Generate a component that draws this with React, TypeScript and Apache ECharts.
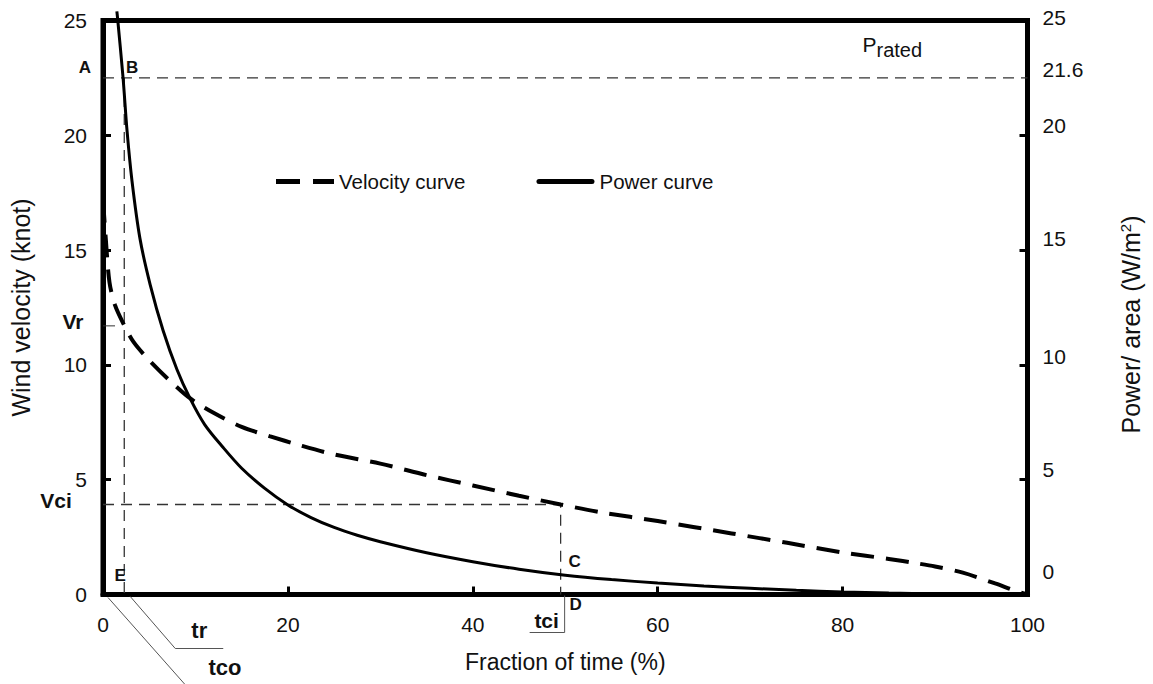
import React, { useEffect, useRef } from "react";
import * as echarts from "echarts";

// ---- data ----
const velocityCurve: [number, number][] = [
  [0, 17.2], [0.3, 15.5], [0.7, 13.6], [1.3, 12.6], [2.2, 11.8], [3.3, 11.0],
  [5, 10.2], [7, 9.4], [9.4, 8.55], [12, 7.9], [15, 7.3], [18, 6.9], [21.3, 6.5],
  [25, 6.1], [30, 5.7], [35, 5.2], [40, 4.75], [45, 4.3], [49.5, 3.92], [54, 3.57],
  [60, 3.2], [68, 2.66], [74, 2.25], [80, 1.83], [85, 1.55], [88, 1.36], [90, 1.22],
  [93, 0.95], [96.5, 0.48], [98.6, 0.17], [100, 0],
];
const powerCurve: [number, number][] = [
  [1.5, 25.4], [1.6, 25], [2.17, 22.5], [2.6, 20.2], [3.14, 18.0], [4, 15.5], [5.1, 13.5],
  [6.5, 11.5], [8, 9.8], [9.4, 8.55], [11, 7.4], [13, 6.4], [15, 5.5], [17.5, 4.62],
  [20, 3.9], [22.5, 3.35], [25, 2.92], [27.5, 2.58], [30, 2.3], [35, 1.82], [40, 1.43],
  [45, 1.1], [50, 0.84], [55, 0.65], [60, 0.5], [65, 0.37], [70, 0.27], [75, 0.18],
  [80, 0.11], [85, 0.06], [90, 0.03], [95, 0.01], [100, 0],
];
const ratedLevel = 22.5;
const ratedLabel = "21.6";
const tr = 2.3;
const tci = 49.5;
const vci = 3.92;
const vr = 11.7;
const leftTickValues = [0, 5, 10, 15, 20, 25];
const rightLabelValues = [0, 5, 10, 15, 20, ratedLevel, 25];
const xTickValues = [0, 20, 40, 60, 80, 100];

// styling: how far each right-axis label sits above its tick in the reference (px)
const rightLabelLift = [23, 10, 8, 12, 10, 8, 3];

const FONT = "Liberation Sans, Arial, sans-serif";
const INK = "#111";

export default function App() {
  const ref = useRef<HTMLDivElement>(null);
  useEffect(() => {
    const chart = echarts.init(ref.current!, null, { renderer: "svg" });
    const guide = { color: "#333", width: 1.3, type: [11, 7] as any };
    const rightRich: any = {};
    rightLabelValues.forEach((_, i) => {
      rightRich["r" + i] = {
        fontSize: 21, color: INK, fontFamily: FONT, padding: [0, 0, rightLabelLift[i] * 2, 0],
      };
    });
    const option: any = {
      animation: false,
      backgroundColor: "#fff",
      textStyle: { fontFamily: FONT },
      grid: {
        left: 103, right: 125.5, top: 20.5, bottom: 89.5,
        show: true, borderColor: "#000", borderWidth: 5,
      },
      legend: {
        left: 271, top: 166, itemWidth: 58, itemHeight: 5, itemGap: 71,
        textStyle: { fontSize: 20.5, color: INK, fontFamily: FONT },
        data: [
          { name: "Velocity curve", icon: "path://M0,0h24v5h-24zM37,0h21v5h-21z" },
          { name: "Power curve", icon: "path://M2.5,0h53a2.5,2.5 0 0 1 0,5h-53a2.5,2.5 0 0 1 0,-5z" },
        ],
      },
      xAxis: {
        type: "value", min: 0, max: 100, interval: 20,
        name: "Fraction of time (%)", nameLocation: "middle", nameGap: 56,
        nameTextStyle: { fontSize: 23, color: INK, fontFamily: FONT },
        axisLine: { show: true, lineStyle: { color: "#000", width: 5 } },
        axisTick: { show: true, inside: true, length: 8, lineStyle: { color: "#000", width: 3 } },
        axisLabel: { fontSize: 21, color: INK, margin: 19, fontFamily: FONT,
          customValues: xTickValues },
        splitLine: { show: false },
      },
      yAxis: [
        {
          type: "value", min: 0, max: 25, interval: 5, position: "left",
          name: "Wind velocity (knot)", nameLocation: "middle", nameGap: 70,
          nameTextStyle: { fontSize: 25, color: INK, fontFamily: FONT },
          axisLine: { show: true, lineStyle: { color: "#000", width: 5 } },
          axisTick: { show: true, inside: true, length: 8, lineStyle: { color: "#000", width: 3 } },
          axisLabel: { fontSize: 21, color: INK, margin: 16, fontFamily: FONT,
            customValues: leftTickValues },
          splitLine: { show: false },
        },
        {
          type: "value", min: 0, max: 25, interval: 5, position: "right",
          name: "Power/ area (W/m{sup|2})", nameLocation: "middle", nameGap: 90,
          nameTextStyle: {
            fontSize: 25, color: INK, fontFamily: FONT, padding: [0, 34, 0, 0],
            rich: { sup: { fontSize: 15, color: INK, fontFamily: FONT, padding: [0, 0, 12, 0] } },
          },
          axisLine: { show: true, lineStyle: { color: "#000", width: 5 } },
          axisTick: { show: true, inside: true, length: 8, lineStyle: { color: "#000", width: 3 },
            customValues: [5, 10, 15, 20] },
          axisLabel: {
            fontSize: 21, color: INK, margin: 15, fontFamily: FONT, verticalAlign: "middle",
            customValues: rightLabelValues,
            rich: rightRich,
            formatter: (v: number) => {
              const i = rightLabelValues.findIndex((c) => Math.abs(c - v) < 1e-6);
              const t = Math.abs(v - ratedLevel) < 1e-6 ? ratedLabel : String(v);
              return i >= 0 ? `{r${i}|${t}}` : t;
            },
          },
          splitLine: { show: false },
        },
      ],
      series: [
        {
          name: "Velocity curve", type: "line", yAxisIndex: 0, data: velocityCurve,
          symbol: "none", smooth: 0.3,
          lineStyle: { color: "#000", width: 4, type: [23, 12] },
          itemStyle: { color: "#000" }, z: 5,
        },
        {
          name: "Power curve", type: "line", yAxisIndex: 1, data: powerCurve,
          symbol: "none", smooth: 0.3, clip: false,
          lineStyle: { color: "#000", width: 3 },
          itemStyle: { color: "#000" }, z: 5,
        },
        { name: "rated", type: "line", data: [[0, ratedLevel], [100, ratedLevel]], symbol: "none",
          lineStyle: guide, silent: true, z: 3 },
        { name: "trLine", type: "line", data: [[tr, ratedLevel], [tr, 0]], symbol: "none",
          lineStyle: guide, silent: true, z: 3 },
        { name: "vciLine", type: "line", data: [[0, vci], [tci, vci], [tci, 0]], symbol: "none",
          lineStyle: guide, silent: true, z: 3 },
        { name: "vrTick", type: "line", data: [[0, vr], [1.3, vr]], symbol: "none",
          lineStyle: { color: "#333", width: 1 }, silent: true, z: 3 },
      ],
    };
    chart.setOption(option);

    const p = (x: number, y: number) =>
      chart.convertToPixel({ xAxisIndex: 0, yAxisIndex: 0 }, [x, y]) as number[];
    const txt = (text: string, x: number, y: number, size: number, bold = true, align = "center") => ({
      type: "text", x, y, z: 20,
      style: { text, fontSize: size, fontWeight: bold ? "bold" : "normal", fontFamily: FONT,
        fill: INK, align, verticalAlign: "middle" },
    });
    const line = (pts: number[][]) => ({
      type: "polyline", z: 20, shape: { points: pts },
      style: { stroke: "#555", lineWidth: 1, fill: null },
    });

    const A = p(0, ratedLevel);
    const B = p(tr, ratedLevel);
    const E = p(tr, 0);
    const CD = p(tci, 0);
    const VR = p(0, vr);
    const VCI = p(0, vci);
    const O = p(0, 0);
    const R = p(100, ratedLevel);

    chart.setOption({
      graphic: [
        txt("A", A[0] - 18, A[1] - 10, 17),
        txt("B", B[0] + 8, B[1] - 10, 17),
        txt("E", E[0] - 4, E[1] - 19, 17),
        txt("C", CD[0] + 14, CD[1] - 33, 17),
        txt("D", CD[0] + 15, CD[1] + 10, 17),
        txt("Vr", VR[0] - 30, VR[1] - 4, 21),
        txt("Vci", VCI[0] - 47, VCI[1] - 4, 21),
        txt("tci", CD[0] - 14, CD[1] + 26, 21),
        txt("tr", E[0] + 75, E[1] + 36, 22),
        txt("tco", O[0] + 122, O[1] + 73, 22),
        line([[CD[0] + 4, CD[1] + 1], [CD[0] + 4, CD[1] + 38], [CD[0] - 31, CD[1] + 38]]),
        line([[E[0] + 6, E[1] + 2], [E[0] + 51, E[1] + 54], [E[0] + 99, E[1] + 54]]),
        line([[O[0] + 5, O[1] + 3], [O[0] + 82, O[1] + 90], [O[0] + 97, O[1] + 90]]),
        {
          type: "text", x: R[0] - 165, y: R[1] - 44, z: 20,
          style: {
            text: "{p|P}{s|rated}", align: "left", verticalAlign: "top",
            rich: {
              p: { fontSize: 21, lineHeight: 22, fontFamily: FONT, fill: INK, verticalAlign: "top" },
              s: { fontSize: 20, lineHeight: 20, fontFamily: FONT, fill: INK, padding: [10, 0, 0, 0] },
            },
          },
        },
      ],
    });
    return () => chart.dispose();
  }, []);
  return (
    <div
      ref={ref}
      style={{ position: "fixed", left: 0, top: 0, width: 1153, height: 684, background: "#fff" }}
    />
  );
}
